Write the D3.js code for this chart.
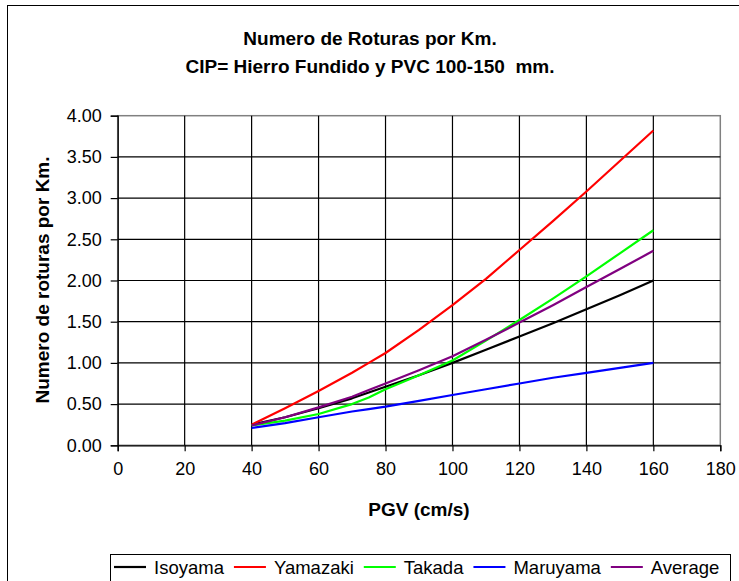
<!DOCTYPE html>
<html>
<head>
<meta charset="utf-8">
<script src="https://cdn.jsdelivr.net/npm/d3@7"></script>
<style>
  html, body { margin: 0; padding: 0; background: #fff; }
  svg { display: block; font-family: "Liberation Sans", Arial, sans-serif; }
</style>
</head>
<body>
<svg id="chart" width="739" height="581"></svg>
<script>
// ---- data ----
const pgv      = [40, 50, 60, 70, 75, 80, 90, 100, 110, 120, 130, 140, 150, 160];
const isoyama  = [0.25, 0.34, 0.45, 0.57, 0.64, 0.71, 0.85, 1.00, 1.16, 1.32, 1.48, 1.65, 1.82, 2.00];
const yamazaki = [0.25, 0.45, 0.66, 0.88, 1.00, 1.12, 1.40, 1.70, 2.02, 2.37, 2.72, 3.08, 3.45, 3.82];
const takada   = [0.24, 0.30, 0.38, 0.50, 0.58, 0.68, 0.85, 1.03, 1.27, 1.52, 1.78, 2.05, 2.33, 2.61];
const maruyama = [0.21, 0.27, 0.34, 0.41, 0.44, 0.47, 0.54, 0.61, 0.68, 0.75, 0.82, 0.88, 0.94, 1.00];
const average  = [0.24, 0.34, 0.46, 0.59, 0.67, 0.75, 0.91, 1.08, 1.28, 1.49, 1.70, 1.92, 2.14, 2.36];
const seriesNames = ["Isoyama", "Yamazaki", "Takada", "Maruyama", "Average"];
const seriesValues = [isoyama, yamazaki, takada, maruyama, average];
const seriesColors = ["#000000", "#ff0000", "#00ff00", "#0000ff", "#800080"];
const xTicks = [0, 20, 40, 60, 80, 100, 120, 140, 160, 180];
const yTicks = [0, 0.5, 1, 1.5, 2, 2.5, 3, 3.5, 4];
const titleLines = ["Numero de Roturas por Km.", "CIP= Hierro Fundido y PVC 100-150  mm."];
const xTitle = "PGV (cm/s)";
const yTitle = "Numero de roturas por Km.";

// ---- layout ----
const svg = d3.select("#chart");
const L = 117.7, R = 720.3, T = 115.7, B = 445.3;
const x = d3.scaleLinear().domain([0, 180]).range([L, R]);
const y = d3.scaleLinear().domain([0, 4]).range([B, T]);

// outer chart frame (extends past the viewport on right/bottom)
svg.append("rect").attr("x", 7.5).attr("y", 5.5).attr("width", 800).attr("height", 700)
  .attr("fill", "#fff").attr("stroke", "#000").attr("stroke-width", 1);

// title
svg.append("g").selectAll("text").data(titleLines).join("text")
  .attr("x", 370).attr("y", (d, i) => 45 + i * 28)
  .attr("text-anchor", "middle").attr("font-size", 19).attr("font-weight", "bold")
  .attr("xml:space", "preserve").style("white-space", "pre")
  .text(d => d);

// plot border (top/right gray)
svg.append("rect").attr("x", L).attr("y", T).attr("width", R - L).attr("height", B - T)
  .attr("fill", "none").attr("stroke", "#808080").attr("stroke-width", 1.5);

// gridlines
const grid = svg.append("g").attr("stroke", "#000").attr("stroke-width", 1.2);
grid.selectAll("line.h").data(yTicks.slice(1, -1)).join("line")
  .attr("x1", L).attr("x2", R).attr("y1", d => y(d)).attr("y2", d => y(d));
grid.selectAll("line.v").data(xTicks.slice(1, -1)).join("line")
  .attr("y1", T).attr("y2", B).attr("x1", d => x(d)).attr("x2", d => x(d));

// axes
const xAxis = d3.axisBottom(x).tickValues(xTicks).tickSize(6).tickPadding(11).tickFormat(d3.format("d"));
const yAxis = d3.axisLeft(y).tickValues(yTicks).tickSize(7).tickPadding(9).tickFormat(d3.format(".2f"));
const gx = svg.append("g").attr("transform", `translate(0,${B})`).call(xAxis);
const gy = svg.append("g").attr("transform", `translate(${L},0)`).call(yAxis);
[gx, gy].forEach(g => {
  g.select(".domain").attr("stroke", "#000").attr("stroke-width", 1.3);
  g.selectAll(".tick line").attr("stroke", "#000").attr("stroke-width", 1.2);
  g.selectAll(".tick text").attr("font-size", 18).attr("fill", "#000")
    .attr("font-family", "Liberation Sans, Arial, sans-serif");
});

// axis titles
svg.append("text").attr("x", 419).attr("y", 516).attr("text-anchor", "middle")
  .attr("font-size", 19).attr("font-weight", "bold").text(xTitle);
svg.append("text").attr("transform", "translate(49,280) rotate(-90)").attr("text-anchor", "middle")
  .attr("font-size", 19).attr("font-weight", "bold").text(yTitle);

// lines
const line = d3.line().x((d, i) => x(pgv[i])).y(d => y(d));
svg.append("g").selectAll("path").data(seriesValues).join("path")
  .attr("d", d => line(d)).attr("fill", "none")
  .attr("stroke", (d, i) => seriesColors[i]).attr("stroke-width", 2.2)
  .attr("stroke-linejoin", "round");

// legend
svg.append("rect").attr("x", 110.5).attr("y", 554.5).attr("width", 620).attr("height", 40)
  .attr("fill", "#fff").attr("stroke", "#000").attr("stroke-width", 1);
const leg = svg.append("g");
let cx = 114;
seriesNames.forEach((name, i) => {
  leg.append("line").attr("x1", cx).attr("x2", cx + 32).attr("y1", 567).attr("y2", 567)
    .attr("stroke", seriesColors[i]).attr("stroke-width", 2.2);
  const t = leg.append("text").attr("x", cx + 40).attr("y", 574).attr("font-size", 18.5).text(name);
  cx += 40 + t.node().getComputedTextLength() + 10;
});
</script>
</body>
</html>
